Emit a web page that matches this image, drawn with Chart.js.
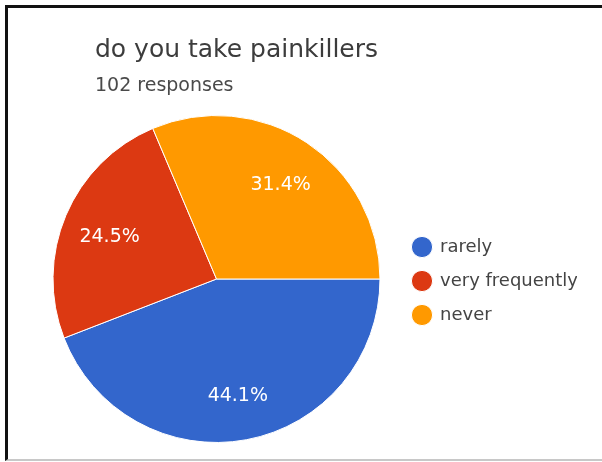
<!DOCTYPE html>
<html>
<head>
<meta charset="utf-8">
<script src="https://cdn.jsdelivr.net/npm/chart.js@4/dist/chart.umd.min.js"></script>
<style>
    body { margin: 0; background: #fff; }
    #frame {
        position: absolute; left: 5px; top: 5px; width: 597px; height: 456px;
        box-sizing: border-box;
        border-top: 3px solid #111; border-left: 3px solid #111; border-bottom: 2px solid #c8c8c8;
    }
    #painChart { position: absolute; left: 0; top: 0; }
</style>
</head>
<body>
<div id="frame"></div>
<canvas id="painChart" width="602" height="462"></canvas>
<script>
const chartTitle = "do you take painkillers";
const responseText = "102 responses";
const answers = ["rarely", "very frequently", "never"];
const responseCounts = [45, 25, 32];
const sliceColors = ["#3366cc", "#dc3912", "#ff9900"];

Chart.defaults.font.family = "'DejaVu Sans', sans-serif";

// title + response count, drawn on the canvas above the pie
const headerText = {
    id: "headerText",
    afterDraw(chart) {
        let ctx = chart.ctx;
        ctx.save();
        ctx.textAlign = "left";
        ctx.textBaseline = "alphabetic";
        ctx.fillStyle = "#3c3c3c";
        ctx.font = "25px 'DejaVu Sans'";
        ctx.fillText(chartTitle, 95, 57);
        ctx.fillStyle = "#4a4a4a";
        ctx.font = "19px 'DejaVu Sans'";
        ctx.fillText(responseText, 95, 91);
        ctx.restore();
    }
};

// percentage labels inside each slice
const sliceLabels = {
    id: "sliceLabels",
    afterDatasetsDraw(chart) {
        let ctx = chart.ctx;
        let data = chart.data.datasets[0].data;
        let total = data.reduce((a, b) => a + b, 0);
        ctx.save();
        ctx.fillStyle = "#ffffff";
        ctx.font = "19px 'DejaVu Sans'";
        ctx.textAlign = "center";
        ctx.textBaseline = "middle";
        chart.getDatasetMeta(0).data.forEach((arc, i) => {
            let p = arc.getProps(["x", "y", "startAngle", "endAngle", "outerRadius"], true);
            let mid = (p.startAngle + p.endAngle) / 2;
            let r = p.outerRadius * 0.71;
            let pct = (data[i] / total * 100).toFixed(1) + "%";
            ctx.fillText(pct, p.x + Math.cos(mid) * r, p.y + Math.sin(mid) * r + 3);
        });
        ctx.restore();
    }
};

let ctx = document.getElementById("painChart").getContext("2d");

new Chart(ctx, {
    type: "pie",
    data: {
        labels: answers,
        datasets: [{
            data: responseCounts,
            backgroundColor: sliceColors,
            borderColor: "#ffffff",
            borderWidth: 1
        }]
    },
    options: {
        responsive: false,
        animation: false,
        rotation: 90,
        layout: {
            padding: { left: 36, right: 25, top: 115, bottom: 19 }
        },
        plugins: {
            tooltip: { enabled: false },
            legend: {
                position: "right",
                fullSize: false,
                maxWidth: 180,
                // empty title only used to nudge the items down a little
                title: { display: true, text: "", padding: { top: 4, bottom: 0 }, font: { size: 0 } },
                labels: {
                    usePointStyle: true,
                    pointStyle: "circle",
                    boxHeight: 15,
                    padding: 16,
                    color: "#444",
                    font: { size: 18 }
                }
            }
        }
    },
    plugins: [headerText, sliceLabels]
});
</script>
</body>
</html>
